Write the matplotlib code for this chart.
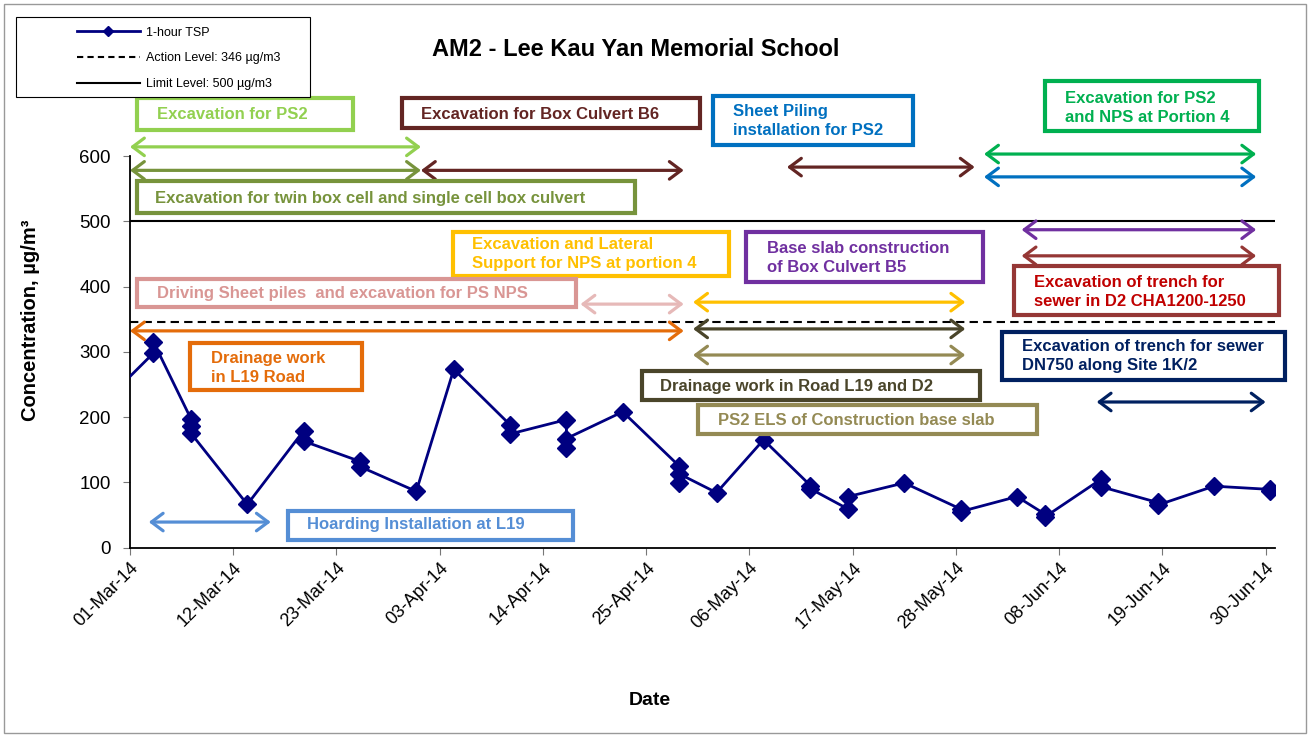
import numpy as np
import pandas as pd
import matplotlib
matplotlib.use("Agg")
import matplotlib.pyplot as plt
import matplotlib.dates as mdates
from matplotlib.patches import Rectangle
from matplotlib.lines import Line2D

plt.rcParams['font.family'] = ['Liberation Sans', 'DejaVu Sans']

# 1-hour TSP readings, ug/m3 (some days have several readings)
sample_dates = ["2014-02-25",
                "2014-03-03", "2014-03-03",
                "2014-03-07", "2014-03-07", "2014-03-07",
                "2014-03-13",
                "2014-03-19", "2014-03-19",
                "2014-03-25", "2014-03-25",
                "2014-03-31",
                "2014-04-04",
                "2014-04-10", "2014-04-10",
                "2014-04-16", "2014-04-16", "2014-04-16",
                "2014-04-22",
                "2014-04-28", "2014-04-28", "2014-04-28",
                "2014-05-02",
                "2014-05-07",
                "2014-05-12", "2014-05-12",
                "2014-05-16", "2014-05-16",
                "2014-05-22",
                "2014-05-28", "2014-05-28",
                "2014-06-03",
                "2014-06-06", "2014-06-06",
                "2014-06-12", "2014-06-12",
                "2014-06-18", "2014-06-18",
                "2014-06-24",
                "2014-06-30", "2014-06-30"]
tsp_values = [212,
              298, 315,
              197, 186, 175,
              66,
              179, 163,
              132, 124,
              86,
              273,
              188, 174,
              196, 153, 167,
              208,
              125, 99, 113,
              84,
              165,
              95, 90,
              59, 78,
              99,
              59, 55,
              78,
              51, 47,
              105, 93,
              69, 65,
              94,
              89, 86]
action_level = 346
limit_level = 500

tick_dates = ["2014-03-01", "2014-03-12", "2014-03-23", "2014-04-03", "2014-04-14", "2014-04-25",
              "2014-05-06", "2014-05-17", "2014-05-28", "2014-06-08", "2014-06-19", "2014-06-30"]

activities = ["Excavation for PS2",
              "Excavation for twin box cell and single cell box culvert",
              "Excavation for Box Culvert B6",
              "Sheet Piling\ninstallation for PS2",
              "Excavation for PS2\nand NPS at Portion 4",
              "Excavation and Lateral\nSupport for NPS at portion 4",
              "Driving Sheet piles  and excavation for PS NPS",
              "Base slab construction\nof Box Culvert B5",
              "Excavation of trench for\nsewer in D2 CHA1200-1250",
              "Drainage work\nin L19 Road",
              "Drainage work in Road L19 and D2",
              "PS2 ELS of Construction base slab",
              "Excavation of trench for sewer\nDN750 along Site 1K/2",
              "Hoarding Installation at L19"]

# activity periods (double arrows)
period_activity = [0, 1, 2, 2, 3, 4, 5, 6, 7, 8, 9, 10, 11, 12, 13]
period_start = ["2014-03-01", "2014-03-01", "2014-04-01", "2014-05-10", "2014-05-31",
                "2014-05-31", "2014-04-30", "2014-04-18", "2014-06-04", "2014-06-04",
                "2014-03-01", "2014-04-30", "2014-04-30", "2014-06-12", "2014-03-03"]
period_end = ["2014-04-01", "2014-04-01", "2014-04-29", "2014-05-30", "2014-06-29",
              "2014-06-29", "2014-05-29", "2014-04-29", "2014-06-29", "2014-06-29",
              "2014-04-29", "2014-05-29", "2014-05-29", "2014-06-30", "2014-03-16"]

# ---- layout / styles ----
arrow_y = [614, 578, 578, 583, 568, 603, 376, 373, 487, 447, 332, 335, 295, 223, 39]
edge_col = ['#92D050', '#77933C', '#632523', '#0070C0', '#00B050', '#FFC000', '#D99694',
            '#7030A0', '#953735', '#E46C0A', '#4A452A', '#948A54', '#002060', '#558ED5']
text_col = ['#92D050', '#77933C', '#632523', '#0070C0', '#00B050', '#FFC000', '#D99694',
            '#7030A0', '#C00000', '#E46C0A', '#4A452A', '#948A54', '#002060', '#558ED5']
arrow_col = ['#92D050', '#77933C', '#632523', '#0070C0', '#00B050', '#FFC000', '#E6B9B8',
             '#7030A0', '#953735', '#E46C0A', '#4A452A', '#948A54', '#002060', '#558ED5']
# box: day0, day1, v0, v1 ; text anchor: day, value
box_ext = [(0.75, 23.8, 640, 689), (0.75, 53.8, 512.6, 561.7), (29, 60.7, 643, 689),
           (62.1, 83.4, 617, 692), (97.5, 120.3, 638, 715), (34.4, 63.8, 416, 483.5),
           (0.75, 47.5, 368.6, 411.5), (65.6, 90.9, 407, 483.5), (94.2, 122.4, 356.3, 431.4),
           (6.4, 24.7, 241, 314), (54.6, 90.6, 226, 270.5), (60.5, 96.6, 174, 218.4),
           (92.9, 123.1, 256.7, 330), (16.8, 47.2, 11.5, 56)]
text_pos = [(2.9, 664), (2.7, 535.6), (31, 664), (64.3, 653.5), (99.6, 673.6), (36.4, 449.8),
            (2.9, 390), (67.9, 443.7), (96.3, 391.6), (8.6, 275), (56.5, 247.5), (62.7, 195.4),
            (95, 293.5), (18.9, 34.5)]

W, H = 1314, 735
fig = plt.figure(figsize=(W / 100, H / 100), dpi=100)
ax = fig.add_axes([130 / W, (H - 547.5) / H, 1145 / W, 391.5 / H])

t = pd.to_datetime(sample_dates) + pd.Timedelta(hours=12)
ax.plot(t, tsp_values, color='#000080', lw=2, marker='D', markersize=9, zorder=3)
ax.axhline(action_level, color='black', lw=1.5, ls=(0, (4, 2.5)), zorder=2)
ax.axhline(limit_level, color='black', lw=1.5, zorder=2)

start = mdates.date2num(pd.Timestamp("2014-03-01"))
ax.set_xlim(start, start + 122)
ax.set_ylim(0, 600)
ax.set_yticks(np.arange(0, 601, 100))
ax.set_xticks(mdates.date2num(pd.to_datetime(tick_dates)))
ax.xaxis.set_major_formatter(mdates.DateFormatter('%d-%b-%y'))
plt.setp(ax.get_xticklabels(), rotation=45, ha='right', rotation_mode='anchor')
ax.tick_params(axis='both', direction='out', length=5, labelsize=13, color='#777777')
ax.tick_params(axis='y', labelsize=13.5, pad=9)
ax.spines['top'].set_visible(False)
ax.spines['right'].set_visible(False)
for s in ['left', 'bottom']:
    ax.spines[s].set_linewidth(1.3)

ax.set_ylabel("Concentration, µg/m³", fontsize=14.5, fontweight='bold')
ax.yaxis.set_label_coords(-0.079, 0.58)
ax.set_xlabel("Date", fontsize=14, fontweight='bold')
ax.xaxis.set_label_coords(0.454, -0.37)

# activity arrows
for i, a in enumerate(period_activity):
    x0 = mdates.date2num(pd.Timestamp(period_start[i]))
    x1 = mdates.date2num(pd.Timestamp(period_end[i]))
    ax.annotate("", xy=(x1, arrow_y[i]), xytext=(x0, arrow_y[i]), annotation_clip=False,
                arrowprops=dict(arrowstyle='<->,head_length=0.6,head_width=0.45',
                                color=arrow_col[a], lw=2.3, shrinkA=0, shrinkB=0,
                                mutation_scale=14), zorder=4)

# activity boxes
for i, lab in enumerate(activities):
    d0, d1, v0, v1 = box_ext[i]
    ax.add_patch(Rectangle((start + d0, v0), d1 - d0, v1 - v0, facecolor='white',
                           edgecolor=edge_col[i], lw=3, clip_on=False, zorder=5))
    ax.text(start + text_pos[i][0], text_pos[i][1], lab, color=text_col[i], fontsize=12,
            fontweight='bold', ha='left', va='center', linespacing=1.4, zorder=6, clip_on=False)

fig.text(636 / W, 1 - 50 / H, "AM2 - Lee Kau Yan Memorial School", fontsize=17,
         fontweight='bold', ha='center', va='center')

# legend
fig.patches.append(Rectangle((16 / W, 1 - 97 / H), 294 / W, 80 / H, transform=fig.transFigure,
                             facecolor='white', edgecolor='black', lw=0.8, zorder=10))
handles = [Line2D([], [], color='#000080', lw=2, marker='D', markersize=5),
           Line2D([], [], color='black', lw=1.5, ls=(0, (3, 2))),
           Line2D([], [], color='black', lw=1.5)]
leg = fig.legend(handles, ["1-hour TSP", "Action Level: 346 µg/m3", "Limit Level: 500 µg/m3"],
                 loc='upper left', bbox_to_anchor=(77 / W, 1 - 26.5 / H), frameon=False,
                 fontsize=9, borderpad=0, borderaxespad=0, handlelength=5, handletextpad=0.55,
                 labelspacing=1.12)
leg.set_zorder(11)

# outer frame
fig.patches.append(Rectangle((3.5 / W, 2.5 / H), 1302 / W, 729 / H, transform=fig.transFigure,
                             facecolor='none', edgecolor='#999999', lw=1, zorder=0))

fig.savefig("out.png", dpi=100)
